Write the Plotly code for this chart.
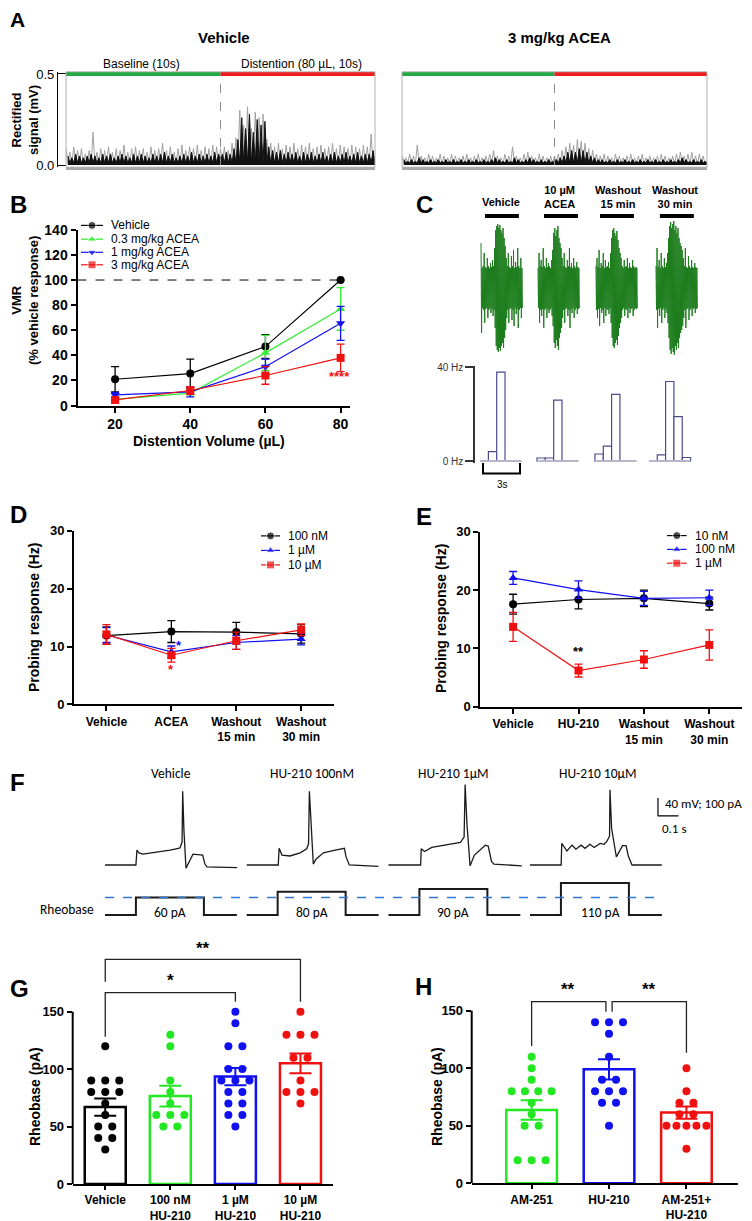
import plotly.graph_objects as go

W, H = 752, 1221
OFF = 8  # the page body adds an 8 px margin; layout positions are shifted back by it
ARIAL = "Liberation Sans, Arial, sans-serif"
NARROW = "Liberation Sans Narrow, Arial Narrow, Liberation Sans, sans-serif"
CALIBRI = "Carlito, Lato, sans-serif"

BLACK = "#000000"
GREEN = "#22e822"
BLUE = "#1010f0"
RED = "#f01010"

# --- A: rectified VMR signal (mV), 0.25 s bins: grey peak and black core envelopes ---
a_dt = 0.25
a_baseline = (0, 10)
a_distention = (10, 20)
a_vehicle_peak = [0.09, 0.07, 0.10, 0.08, 0.09, 0.06, 0.08, 0.18, 0.07, 0.09,
                  0.08, 0.10, 0.07, 0.09, 0.08, 0.11, 0.07, 0.09, 0.10, 0.08,
                  0.09, 0.07, 0.10, 0.08, 0.09, 0.12, 0.08, 0.10, 0.07, 0.09,
                  0.11, 0.08, 0.10, 0.09, 0.11, 0.08, 0.10, 0.09, 0.11, 0.10,
                  0.09, 0.10, 0.08, 0.12, 0.15, 0.30, 0.22, 0.32, 0.20, 0.29,
                  0.26, 0.28, 0.14, 0.12, 0.10, 0.12, 0.09, 0.11, 0.10, 0.12,
                  0.09, 0.11, 0.10, 0.12, 0.09, 0.10, 0.11, 0.09, 0.10, 0.12,
                  0.09, 0.11, 0.10, 0.09, 0.11, 0.10, 0.09, 0.11, 0.10, 0.17]
a_vehicle_core = [0.05, 0.04, 0.06, 0.05, 0.04, 0.05, 0.06, 0.05, 0.04, 0.06,
                  0.05, 0.06, 0.04, 0.05, 0.06, 0.05, 0.04, 0.06, 0.05, 0.06,
                  0.05, 0.04, 0.06, 0.05, 0.06, 0.07, 0.05, 0.06, 0.04, 0.05,
                  0.06, 0.05, 0.07, 0.05, 0.06, 0.05, 0.06, 0.05, 0.07, 0.06,
                  0.06, 0.07, 0.06, 0.09, 0.14, 0.26, 0.20, 0.28, 0.18, 0.25,
                  0.22, 0.24, 0.10, 0.08, 0.07, 0.08, 0.06, 0.07, 0.06, 0.07,
                  0.05, 0.07, 0.06, 0.07, 0.05, 0.06, 0.07, 0.05, 0.06, 0.07,
                  0.05, 0.06, 0.07, 0.05, 0.06, 0.07, 0.05, 0.06, 0.06, 0.08]
a_acea_peak = [0.05, 0.04, 0.06, 0.05, 0.11, 0.05, 0.04, 0.06, 0.05, 0.04,
               0.06, 0.05, 0.04, 0.06, 0.05, 0.04, 0.05, 0.06, 0.04, 0.05,
               0.06, 0.04, 0.05, 0.06, 0.08, 0.05, 0.04, 0.06, 0.05, 0.10,
               0.05, 0.04, 0.06, 0.07, 0.05, 0.04, 0.06, 0.05, 0.04, 0.05,
               0.05, 0.06, 0.08, 0.10, 0.12, 0.11, 0.14, 0.13, 0.12, 0.09,
               0.08, 0.06, 0.05, 0.06, 0.05, 0.04, 0.06, 0.05, 0.04, 0.05,
               0.06, 0.04, 0.05, 0.06, 0.04, 0.05, 0.04, 0.05, 0.06, 0.05,
               0.04, 0.05, 0.06, 0.07, 0.05, 0.06, 0.07, 0.05, 0.06, 0.05]
a_acea_core = [0.03, 0.02, 0.03, 0.02, 0.04, 0.03, 0.02, 0.03, 0.02, 0.03,
               0.02, 0.03, 0.02, 0.03, 0.02, 0.03, 0.02, 0.03, 0.02, 0.03,
               0.02, 0.03, 0.02, 0.03, 0.04, 0.03, 0.02, 0.03, 0.02, 0.04,
               0.03, 0.02, 0.03, 0.04, 0.03, 0.02, 0.03, 0.02, 0.03, 0.02,
               0.03, 0.04, 0.05, 0.07, 0.08, 0.07, 0.09, 0.08, 0.07, 0.05,
               0.04, 0.03, 0.03, 0.02, 0.03, 0.02, 0.03, 0.02, 0.03, 0.02,
               0.03, 0.02, 0.03, 0.02, 0.03, 0.02, 0.03, 0.02, 0.03, 0.02,
               0.03, 0.02, 0.03, 0.04, 0.03, 0.02, 0.03, 0.02, 0.03, 0.02]

# --- B: VMR (% vehicle response) vs distention volume ---
b_volume = [20, 40, 60, 80]
b_vehicle = [21, 25.5, 47, 100]
b_vehicle_err = [10, 11.5, 9.5, 0]
b_acea03 = [5, 10, 42, 77]
b_acea03_err = [1, 1.5, 14, 17]
b_acea1 = [8.5, 11, 31, 65.5]
b_acea1_err = [2, 4, 6, 13.5]
b_acea3 = [4.5, 12, 24, 38]
b_acea3_err = [1, 3, 7, 11]
b_names = ["Vehicle", "0.3 mg/kg ACEA", "1 mg/kg ACEA", "3 mg/kg ACEA"]

# --- C: afferent bursts (amplitude envelopes) and firing histograms ---
c_conditions = ["Vehicle", "10 µM<br>ACEA", "Washout<br>15 min", "Washout<br>30 min"]
c_sweep_start = [0.49, 5.11, 9.81, 14.68]      # s
c_sample_dt = 0.085                           # s
c_probe_start = [0.81, 5.60, 10.14, 15.00]    # s
c_probe_len = 2.75                            # s
c_burst_vehicle = [45, 20, 22, 35, 21, 20, 30, 22, 20, 25, 21, 28, 22, 40, 58, 62, 64, 60, 63, 58,
                   55, 60, 50, 42, 30, 22, 35, 21, 20, 32, 22, 38, 20, 26, 21, 40, 22, 20, 30, 20]
c_burst_acea = [20, 35, 22, 28, 21, 40, 22, 20, 30, 21, 25, 22, 20, 28, 38, 55, 60, 52, 58, 62,
                50, 45, 40, 30, 22, 35, 21, 20, 28, 22, 40, 21, 25, 20, 30, 22, 20, 26, 21, 20]
c_burst_wash15 = [22, 30, 21, 38, 20, 25, 22, 35, 20, 28, 21, 22, 26, 20, 35, 50, 58, 60, 55, 52,
                  57, 48, 40, 35, 30, 22, 20, 28, 21, 22, 30, 20, 25, 21, 20, 28, 22, 20, 21, 20]
c_burst_wash30 = [22, 40, 21, 28, 20, 35, 22, 20, 30, 21, 25, 35, 50, 62, 66, 60, 64, 67, 58, 62,
                  55, 60, 50, 45, 42, 38, 30, 22, 40, 21, 20, 32, 22, 20, 28, 21, 20, 25, 21, 20]
c_hist_bin = 0.675                            # s
c_hist_start = [0.41, 5.03, 9.73, 14.11]      # s
c_hist_vehicle = [0, 4, 38, 0, 0]             # Hz
c_hist_acea = [1.3, 1.3, 26, 0.5, 0]
c_hist_wash15 = [3, 6.4, 28.5, 0, 0]
c_hist_wash30 = [0, 2.6, 34, 19, 1.5]

# --- D: probing response (Hz), ACEA ---
d_cats = ["Vehicle", "ACEA", "Washout<br>15 min", "Washout<br>30 min"]
d_names = ["100 nM", "1 µM", "10 µM"]
d_100nM = [11.9, 12.6, 12.5, 12.2]
d_100nM_err = [1.5, 1.9, 1.7, 1.6]
d_1uM = [12.0, 9.1, 10.7, 11.3]
d_1uM_err = [1.3, 1.0, 1.2, 1.0]
d_10uM = [12.1, 8.5, 11.0, 12.9]
d_10uM_err = [1.7, 1.2, 1.5, 1.0]

# --- E: probing response (Hz), HU-210 ---
e_cats = ["Vehicle", "HU-210", "Washout<br>15 min", "Washout<br>30 min"]
e_names = ["10 nM", "100 nM", "1 µM"]
e_10nM = [17.6, 18.4, 18.6, 17.7]
e_10nM_err = [1.7, 1.6, 1.4, 1.1]
e_100nM = [22.1, 20.1, 18.6, 18.7]
e_100nM_err = [1.1, 1.5, 1.2, 1.3]
e_1uM = [13.7, 6.2, 8.1, 10.6]
e_1uM_err = [2.5, 1.1, 1.5, 2.6]

# --- F: current-clamp sweeps (ms, mV) and rheobase steps (pA) ---
f_titles = ["Vehicle", "HU-210 100nM", "HU-210 1µM", "HU-210 10µM"]
f_vehicle_t = [0, 150, 155, 165, 184, 267, 316, 345, 364, 374, 377, 383, 393, 413, 427, 474, 485, 495, 641]
f_vehicle_v = [-70, -70, -37, -43, -46, -41, -37, -34, -32, -19, 94, 8, -77, -59, -46, -48, -68, -74, -76]
f_100nM_t = [0, 153, 157, 171, 210, 259, 291, 300, 304, 312, 323, 336, 372, 429, 474, 482, 498, 639]
f_100nM_v = [-70, -70, -33, -48, -50, -43, -34, -23, 94, 10, -68, -57, -43, -37, -33, -52, -70, -73]
f_1uM_t = [0, 156, 159, 175, 210, 267, 349, 367, 372, 381, 396, 417, 470, 484, 500, 512, 647]
f_1uM_v = [-70, -70, -34, -40, -31, -26, -20, -8, 109, 20, -72, -48, -26, -28, -62, -68, -72]
f_10uM_t = [0, 151, 154, 179, 204, 223, 248, 267, 291, 311, 340, 359, 372, 386, 388, 396, 419, 449, 466, 477, 495, 640]
f_10uM_v = [-70, -70, -22, -39, -26, -35, -26, -33, -24, -31, -22, -24, -18, -6, 97, 11, -52, -27, -27, -50, -70, -70]
f_step_on, f_step_off, f_sweep_end = 150, 480, 640
f_rheobase = [60, 80, 90, 110]

# --- G: rheobase (pA), HU-210 concentrations ---
g_cats = ["Vehicle", "100 nM<br>HU-210", "1 µM<br>HU-210", "10 µM<br>HU-210"]
g_vehicle = [120, 90, 90, 90, 80, 80, 80, 70, 60, 50, 50, 40, 40, 30]
g_100nM = [130, 120, 90, 80, 70, 60, 60, 60, 50, 50]
g_1uM = [150, 140, 120, 120, 100, 100, 90, 90, 90, 80, 80, 70, 70, 60, 60, 50]
g_10uM = [150, 130, 130, 130, 110, 110, 90, 80, 80, 80, 70]
g_mean = [67, 76.5, 93.5, 105]
g_sem = [7.5, 9, 7.5, 8.5]

# --- H: rheobase (pA), AM-251 ---
h_cats = ["AM-251", "HU-210", "AM-251+<br>HU-210"]
h_am251 = [110, 100, 90, 80, 80, 80, 80, 70, 60, 50, 50, 20, 20, 20]
h_hu210 = [140, 140, 140, 130, 110, 90, 90, 80, 80, 80, 70, 70, 50]
h_combo = [100, 80, 70, 70, 60, 60, 50, 50, 50, 50, 50, 30]
h_mean = [63.7, 99, 61.4]
h_sem = [8.4, 8.8, 5.4]


fig = go.Figure()


def fx(x):
    return (x - OFF) / W


def fy(y):
    return 1 - (y - OFF) / H


def dom_x(a, b):
    return [fx(a), fx(b)]


def dom_y(top, bottom):
    return [fy(bottom), fy(top)]


def label(text, x, y, size=13, bold=False, family=ARIAL, color=BLACK, xanchor="center", angle=0):
    fig.add_annotation(text=text, x=fx(x), y=fy(y), xref="paper", yref="paper", showarrow=False,
                       font=dict(family=family, size=size, color=color, weight="bold" if bold else "normal"),
                       xanchor=xanchor, yanchor="middle", textangle=angle)


def note(text, x, y, xa, ya, size=13, color=BLACK):
    fig.add_annotation(text=text, x=x, y=y, xref=xa, yref=ya, showarrow=False,
                       font=dict(family=ARIAL, size=size, color=color, weight="bold"))


def line(xa, ya, x, y, color, width=1.0, dash=None, fill=None):
    fig.add_trace(go.Scatter(x=x, y=y, mode="lines", line=dict(color=color, width=width, dash=dash),
                             fill=fill, fillcolor=color if fill else None,
                             xaxis=xa, yaxis=ya, showlegend=False, hoverinfo="skip"))


def zigzag(values, dt, t0=0.0, low=0.0, mirror=False):
    xs, ys = [], []
    for i, v in enumerate(values):
        t = t0 + i * dt
        xs += [t, t + dt / 2]
        ys += [v, -v if mirror else low]
    return xs, ys


# ---------------- A ----------------
for xa, ya, peak, core in [("x", "y", a_vehicle_peak, a_vehicle_core), ("x2", "y2", a_acea_peak, a_acea_core)]:
    gx, gy = zigzag(peak, a_dt, low=0.004)
    line(xa, ya, gx, gy, "#a0a0a0", 1)
    kx, ky = zigzag(core, a_dt, t0=a_dt / 2, low=0.012)
    line(xa, ya, kx, ky, "#111111", 1, fill="tozeroy")
    line(xa, ya, list(a_baseline), [0.5, 0.5], "#22aa44", 4)
    line(xa, ya, list(a_distention), [0.5, 0.5], "#ee1c1c", 4)
    line(xa, ya, [a_distention[0]] * 2, [0, 0.5], "#8a8a8a", 1, "dash")
    fig.add_shape(type="rect", xref=xa + " domain", yref=ya + " domain", x0=0, x1=1, y0=0, y1=1,
                  line=dict(color="#b0b0b0", width=1))

label("<b>A</b>", 8, 20, size=21, xanchor="left")
label("Vehicle", 224, 37, size=15, bold=True, family=NARROW)
label("3 mg/kg ACEA", 559, 37, size=15, bold=True, family=NARROW)
label("Baseline (10s)", 141, 64, size=12, family=NARROW)
label("Distention (80 µL, 10s)", 301, 64, size=12, family=NARROW)
label("Rectified<br>signal (mV)", 25, 120, size=13, bold=True, angle=-90)

# ---------------- B ----------------
b_series = [(b_vehicle, b_vehicle_err, BLACK, "circle"),
            (b_acea03, b_acea03_err, "#33ee33", "triangle-up"),
            (b_acea1, b_acea1_err, BLUE, "triangle-down"),
            (b_acea3, b_acea3_err, RED, "square")]
line("x3", "y3", [10, 80], [100, 100], BLACK, 1, "dash")
for vals, errs, color, sym in b_series:
    fig.add_trace(go.Scatter(x=b_volume, y=vals, mode="lines+markers", line=dict(color=color, width=1.2),
                             marker=dict(symbol=sym, size=8, color=color),
                             error_y=dict(type="data", array=errs, color=color, thickness=1.3, width=4),
                             xaxis="x3", yaxis="y3", showlegend=False, cliponaxis=False))
note("**", 83.6, 67.4, "x3", "y3", size=13, color=BLUE)
note("****", 79.7, 22.8, "x3", "y3", size=13, color=RED)
label("<b>B</b>", 8, 205, size=24, xanchor="left")
label("VMR<br>(% vehicle response)", 25, 301, size=13, bold=True, angle=-90)
label("Distention Volume (µL)", 209, 441, size=14, bold=True)

# ---------------- C ----------------
for start, env in zip(c_sweep_start, [c_burst_vehicle, c_burst_acea, c_burst_wash15, c_burst_wash30]):
    bx, by = zigzag(env, c_sample_dt, t0=start, mirror=True)
    line("x4", "y4", bx, by, "#1d7d1d", 1)
for start in c_probe_start:
    line("x4", "y4", [start, start + c_probe_len], [72, 72], BLACK, 4)
for start, hist in zip(c_hist_start, [c_hist_vehicle, c_hist_acea, c_hist_wash15, c_hist_wash30]):
    line("x4", "y5", [start, start + len(hist) * c_hist_bin], [0, 0], "#b6b6ca", 2)
    xs = [start + (i + 0.5) * c_hist_bin for i, v in enumerate(hist) if v > 0.8]
    ys = [v for v in hist if v > 0.8]
    fig.add_trace(go.Bar(x=xs, y=ys, width=c_hist_bin, xaxis="x4", yaxis="y5", showlegend=False,
                         marker=dict(color="white", line=dict(color="#4b4b8f", width=1.2)), hoverinfo="skip"))
fig.add_shape(type="path", xref="x4", yref="paper", line=dict(color=BLACK, width=2),
              path=f"M 0.65,{fy(463)} L 0.65,{fy(473.6)} L 3.65,{fy(473.6)} L 3.65,{fy(463)}")
label("3s", 502, 484, size=10)
for cx, txt in zip([501, 559, 617.5, 675], c_conditions):
    label(txt, cx, 197 if "<br>" in txt else 202, size=11, bold=True, family=NARROW)
label("<b>C</b>", 424, 205, size=24)

# ---------------- D / E ----------------
for xa, ya, series in [
    ("x5", "y6", [(d_100nM, d_100nM_err, BLACK, "circle"), (d_1uM, d_1uM_err, BLUE, "triangle-up"),
                  (d_10uM, d_10uM_err, RED, "square")]),
    ("x6", "y7", [(e_10nM, e_10nM_err, BLACK, "circle"), (e_100nM, e_100nM_err, BLUE, "triangle-up"),
                  (e_1uM, e_1uM_err, RED, "square")])]:
    for vals, errs, color, sym in series:
        fig.add_trace(go.Scatter(x=[0, 1, 2, 3], y=vals, mode="lines+markers", line=dict(color=color, width=1.2),
                                 marker=dict(symbol=sym, size=8, color=color),
                                 error_y=dict(type="data", array=errs, color=color, thickness=1.3, width=4),
                                 xaxis=xa, yaxis=ya, showlegend=False, cliponaxis=False))
note("*", 1.12, 10.2, "x5", "y6", size=13, color=BLUE)
note("*", 1.0, 6.1, "x5", "y6", size=13, color=RED)
note("**", 1.0, 9.4, "x6", "y7", size=13)
label("<b>D</b>", 8, 514, size=24, xanchor="left")
label("<b>E</b>", 424, 516, size=24)
label("Probing response (Hz)", 34, 618, size=14, bold=True, angle=-90)
label("Probing response (Hz)", 441, 619, size=14, bold=True, angle=-90)

# ---------------- F ----------------
f_offsets = [0, 688, 1376, 2063]
for off, (t, v) in zip(f_offsets, [(f_vehicle_t, f_vehicle_v), (f_100nM_t, f_100nM_v),
                                   (f_1uM_t, f_1uM_v), (f_10uM_t, f_10uM_v)]):
    line("x7", "y8", [ti + off for ti in t], v, "#1a1a1a", 1.3)
for off, amp in zip(f_offsets, f_rheobase):
    line("x7", "y9", [off, off + f_step_on, off + f_step_on, off + f_step_off, off + f_step_off, off + f_sweep_end],
         [0, 0, amp, amp, 0, 0], "#1a1a1a", 2)
line("x7", "y9", [0, 2704], [f_rheobase[0]] * 2, "#2f78d6", 1.5, "dash")
fig.add_shape(type="path", xref="x7", yref="y8", line=dict(color=BLACK, width=1.2),
              path="M 2684,79 L 2684,39 L 2784,39")
for cx, txt in zip([171, 311.7, 453, 597], f_titles):
    label(txt, cx, 773, size=13.5, family=CALIBRI)
for cx, amp in zip([170, 311.7, 453.3, 600], f_rheobase):
    label(f"{amp} pA", cx, 912, size=13.5, family=CALIBRI)
label("Rheobase", 67, 909, size=13.5, family=CALIBRI)
label("40 mV; 100 pA", 663, 803, size=13, family=CALIBRI, xanchor="left")
label("0.1 s", 660, 828, size=13, family=CALIBRI, xanchor="left")
label("<b>F</b>", 8, 782, size=24, xanchor="left")


# ---------------- G / H ----------------
def swarm(center, values, unit_px):
    counts, seen, xs = {}, {}, []
    for v in values:
        counts[v] = counts.get(v, 0) + 1
    for v in values:
        n = counts[v]
        i = seen.get(v, 0)
        seen[v] = i + 1
        step = min(14.0, 40.0 / (n - 1)) if n > 1 else 0
        xs.append(center + (i - (n - 1) / 2) * step / unit_px)
    return xs


for xa, ya, groups, means, sems, colors, unit_px, bw in [
    ("x8", "y10", [g_vehicle, g_100nM, g_1uM, g_10uM], g_mean, g_sem, [BLACK, GREEN, BLUE, RED], 65.0, 0.63),
    ("x9", "y11", [h_am251, h_hu210, h_combo], h_mean, h_sem, [GREEN, BLUE, RED], 77.5, 0.654)]:
    for k, (vals, m, s, c) in enumerate(zip(groups, means, sems, colors)):
        fig.add_trace(go.Bar(x=[k], y=[m], width=bw, xaxis=xa, yaxis=ya, showlegend=False,
                             marker=dict(color="rgba(255,255,255,0)", line=dict(color=c, width=2.5)),
                             error_y=dict(type="data", array=[s], color=c, thickness=2, width=11)))
        fig.add_trace(go.Scatter(x=swarm(k, vals, unit_px), y=vals, mode="markers",
                                 marker=dict(color=c, size=8), xaxis=xa, yaxis=ya, showlegend=False))
    fig.add_shape(type="line", xref=xa + " domain", yref=ya, x0=0, x1=0, y0=0, y1=150,
                  line=dict(color=BLACK, width=2))

bracket = dict(color="#222222", width=1.3)
fig.add_shape(type="path", xref="x8", yref="y10", line=bracket, path="M 0,176 L 0,195.6 L 3,195.6 L 3,158.7")
fig.add_shape(type="path", xref="x8", yref="y10", line=bracket, path="M 0,128.2 L 0,166.5 L 2,166.5 L 2,158.7")
note("**", 1.5, 205, "x8", "y10", size=17)
note("*", 1.0, 177, "x8", "y10", size=17)
fig.add_shape(type="path", xref="x9", yref="y11", line=bracket, path="M 0,119.3 L 0,157.8 L 0.96,157.8 L 0.96,149")
fig.add_shape(type="path", xref="x9", yref="y11", line=bracket, path="M 1.04,149 L 1.04,157.8 L 2,157.8 L 2,113.5")
note("**", 0.47, 168, "x9", "y11", size=17)
note("**", 1.52, 168, "x9", "y11", size=17)
label("<b>G</b>", 8, 988, size=24, xanchor="left")
label("<b>H</b>", 423, 986, size=24)
label("Rheobase (pA)", 35, 1097, size=14, bold=True, angle=-90)
label("Rheobase (pA)", 437, 1097, size=14, bold=True, angle=-90)


# ---------------- legends (pixel overlay) ----------------
def legend_entry(x0, x1, y, color, symbol, text):
    fig.add_trace(go.Scatter(x=[x0, (x0 + x1) / 2, x1], y=[y, y, y], mode="lines+markers",
                             line=dict(color=color, width=1.2),
                             marker=dict(symbol=symbol, size=[0, 8, 0], color=color),
                             xaxis="x10", yaxis="y12", showlegend=False, hoverinfo="skip", cliponaxis=False))
    label(text, x1 + 6, y, size=12, xanchor="left")


for y, (vals, errs, color, sym), name in zip([225.4, 239.2, 252.3, 264.8], b_series, b_names):
    legend_entry(81, 103, y, color, sym, name)
for y, color, sym, name in zip([535.9, 550.4, 564.9], [BLACK, BLUE, RED], ["circle", "triangle-up", "square"], d_names):
    legend_entry(261, 280, y, color, sym, name)
for y, color, sym, name in zip([535.6, 549.4, 563.2], [BLACK, BLUE, RED], ["circle", "triangle-up", "square"], e_names):
    legend_entry(667, 686.6, y, color, sym, name)


# ---------------- axes ----------------
def gp_axis(**kw):
    base = dict(showgrid=False, zeroline=False, showline=True, linecolor=BLACK, linewidth=2,
                ticks="outside", ticklen=5, tickwidth=2, tickcolor=BLACK, automargin=False,
                tickfont=dict(family=ARIAL, size=13, color=BLACK, weight="bold"))
    base.update(kw)
    return base


hidden = dict(visible=False, showgrid=False, zeroline=False, automargin=False)
a_x = dict(showgrid=False, zeroline=False, showline=True, linecolor="#a8a8a8", linewidth=2.5,
           ticks="", showticklabels=False, range=[0, 20], automargin=False)
cat_font = dict(family=ARIAL, size=12, color=BLACK, weight="bold")

fig.update_layout(
    template="none",
    width=W, height=H, margin=dict(l=0, r=0, t=0, b=0, pad=0, autoexpand=False),
    paper_bgcolor="white", plot_bgcolor="rgba(0,0,0,0)", barmode="overlay",
    showlegend=False, font=dict(family=ARIAL, color=BLACK),
    xaxis=dict(a_x, domain=dom_x(66, 375), anchor="y"),
    yaxis=dict(domain=dom_y(71.8, 167.2), range=[-0.012, 0.512], anchor="free", position=fx(57),
               showgrid=False, zeroline=False, showline=True, linecolor=BLACK, linewidth=1.3,
               ticks="inside", ticklen=8, tickwidth=1.3, tickcolor=BLACK, automargin=False,
               tickvals=[0, 0.5], ticktext=["0.0", "0.5"],
               tickfont=dict(family=NARROW, size=13, color=BLACK)),
    xaxis2=dict(a_x, domain=dom_x(402, 707), anchor="y2"),
    yaxis2=dict(hidden, domain=dom_y(71.8, 167.2), range=[-0.012, 0.512], anchor="x2"),
    xaxis3=gp_axis(domain=dom_x(77.5, 350), range=[10, 82.5], anchor="y3", tickvals=b_volume,
                   tickfont=dict(family=ARIAL, size=14, color=BLACK, weight="bold")),
    yaxis3=gp_axis(domain=dom_y(229.8, 405.6), range=[0, 140], anchor="x3", tickvals=list(range(0, 141, 20)),
                   tickfont=dict(family=ARIAL, size=14, color=BLACK, weight="bold")),
    xaxis4=dict(hidden, domain=dom_x(475, 700), range=[0, 18.25], anchor="y4"),
    yaxis4=dict(hidden, domain=dom_y(212, 362), range=[-74, 76], anchor="x4"),
    yaxis5=dict(domain=dom_y(366.3, 462.9), range=[-0.8, 40.5], anchor="x4", showgrid=False, zeroline=False,
                showline=True, linecolor="#333333", linewidth=1.5, ticks="outside", ticklen=8, tickwidth=1.5,
                tickcolor="#333333", tickvals=[0, 40], ticktext=["0 Hz", "40 Hz"], automargin=False,
                tickfont=dict(family=ARIAL, size=10, color="#333333")),
    xaxis5=gp_axis(domain=dom_x(74, 333.6), range=[-0.5, 3.5], anchor="y6", tickvals=[0, 1, 2, 3],
                   ticktext=d_cats, tickfont=cat_font),
    yaxis6=gp_axis(domain=dom_y(530.9, 704.4), range=[0, 30], anchor="x5", tickvals=[0, 10, 20, 30]),
    xaxis6=gp_axis(domain=dom_x(480.4, 742), range=[-0.5, 3.5], anchor="y7", tickvals=[0, 1, 2, 3],
                   ticktext=e_cats, tickfont=cat_font),
    yaxis7=gp_axis(domain=dom_y(531.9, 706.7), range=[0, 30], anchor="x6", tickvals=[0, 10, 20, 30]),
    xaxis7=dict(hidden, domain=dom_x(100, 700), range=[-24.3, 2888], anchor="y8"),
    yaxis8=dict(hidden, domain=dom_y(780, 872), range=[-85.6, 118.9], anchor="x7"),
    yaxis9=dict(hidden, domain=dom_y(878, 920), range=[-17.2, 127.6], anchor="x7"),
    xaxis8=gp_axis(domain=dom_x(72.7, 333), range=[-0.5, 3.5], anchor="y10", tickvals=[0, 1, 2, 3],
                   ticktext=g_cats, tickfont=cat_font, ticklen=4),
    yaxis10=gp_axis(domain=dom_y(937, 1184), range=[0, 215], anchor="x8", showline=False,
                    tickvals=[0, 50, 100, 150]),
    xaxis9=gp_axis(domain=dom_x(471.7, 738.3), range=[-0.774, 2.67], anchor="y11", tickvals=[0, 1, 2],
                   ticktext=h_cats, tickfont=cat_font, ticklen=4),
    yaxis11=gp_axis(domain=dom_y(935.8, 1183.3), range=[0, 215], anchor="x9", showline=False,
                    tickvals=[0, 50, 100, 150]),
    xaxis10=dict(hidden, domain=[0, 1], range=[OFF, W + OFF], anchor="y12"),
    yaxis12=dict(hidden, domain=[0, 1], range=[H + OFF, OFF], anchor="x10"),
)

fig.write_html("out.html")
